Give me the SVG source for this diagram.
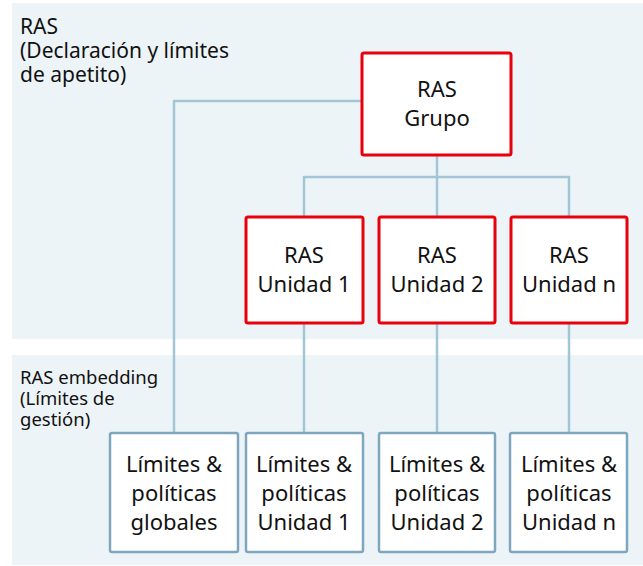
<svg xmlns="http://www.w3.org/2000/svg" width="643" height="566" viewBox="0 0 643 566">
<style>
.panel{fill:#edf4f8}
.lbl{font-family:"Noto Sans","Open Sans",sans-serif;font-size:21px;fill:#111}
.lbl2{font-family:"Noto Sans","Open Sans",sans-serif;font-size:18.5px;fill:#111}
.red{fill:#fff;stroke:#e8000b;stroke-width:3}
.blue{fill:#fff;stroke:#7fa6bf;stroke-width:2.5}
.t{font-family:"Noto Sans","Open Sans",sans-serif;font-size:22px;fill:#111;text-anchor:middle}
.c{fill:none;stroke:#a3c6d6;stroke-width:2.5;stroke-linejoin:round}
</style>
<rect class="panel" x="12" y="3" width="631" height="336"/>
<rect class="panel" x="12" y="355" width="631" height="210"/>
<text class="lbl" x="20" y="34">RAS</text>
<text class="lbl" x="20" y="58">(Declaración y límites</text>
<text class="lbl" x="20" y="82">de apetito)</text>
<text class="lbl2" x="20" y="384">RAS embedding</text>
<text class="lbl2" x="20" y="405">(Límites de</text>
<text class="lbl2" x="20" y="426">gestión)</text>
<g id="connectors">
<path class="c" d="M362 101 H174 V433"/>
<path class="c" d="M437 155 V177"/>
<path class="c" d="M304 217 V177 H569 V217"/>
<path class="c" d="M437 177 V217"/>
<path class="c" d="M304 323 V433"/>
<path class="c" d="M437 323 V433"/>
<path class="c" d="M569 323 V433"/>
</g>
<g id="ras-grupo"><rect class="red" x="362" y="53" width="149" height="102" rx="2"/><text class="t" x="437" y="97">RAS</text><text class="t" x="437" y="126">Grupo</text></g>
<g id="ras-unidad1"><rect class="red" x="246" y="217" width="117" height="106" rx="2"/><text class="t" x="304" y="263">RAS</text><text class="t" x="304" y="292">Unidad 1</text></g>
<g id="ras-unidad2"><rect class="red" x="379" y="217" width="116" height="106" rx="2"/><text class="t" x="437" y="263">RAS</text><text class="t" x="437" y="292">Unidad 2</text></g>
<g id="ras-unidadn"><rect class="red" x="511" y="217" width="116" height="106" rx="2"/><text class="t" x="569" y="263">RAS</text><text class="t" x="569" y="292">Unidad n</text></g>
<g id="lim-globales"><rect class="blue" x="110" y="433" width="128" height="119" rx="2"/><text class="t" x="174" y="472">Límites &amp;</text><text class="t" x="174" y="501">políticas</text><text class="t" x="174" y="530">globales</text></g>
<g id="lim-unidad1"><rect class="blue" x="246" y="433" width="117" height="119" rx="2"/><text class="t" x="304" y="472">Límites &amp;</text><text class="t" x="304" y="501">políticas</text><text class="t" x="304" y="530">Unidad 1</text></g>
<g id="lim-unidad2"><rect class="blue" x="379" y="433" width="116" height="119" rx="2"/><text class="t" x="437" y="472">Límites &amp;</text><text class="t" x="437" y="501">políticas</text><text class="t" x="437" y="530">Unidad 2</text></g>
<g id="lim-unidadn"><rect class="blue" x="510" y="433" width="117" height="119" rx="2"/><text class="t" x="569" y="472">Límites &amp;</text><text class="t" x="569" y="501">políticas</text><text class="t" x="569" y="530">Unidad n</text></g>
</svg>
